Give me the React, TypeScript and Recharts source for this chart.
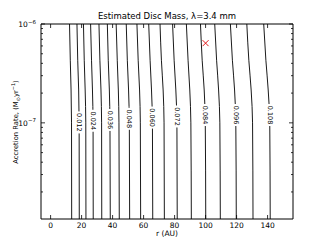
import React from "react";
import {
  ComposedChart,
  Line,
  Scatter,
  XAxis,
  YAxis,
  ReferenceArea,
  ReferenceDot,
} from "recharts";

const W = 325;
const H = 245;
// XAxis height and YAxis width are 1px each, so the plot box is 41..293 x 24..219
const MARGIN = { top: 24, right: 32, bottom: 25, left: 40 };
const PLOT_W = 252;
const PLOT_H = 195;
const FONT = "DejaVu Sans, sans-serif";

const R_DOMAIN: [number, number] = [-6.2, 156.4];
const RATE_DOMAIN: [number, number] = [1.065e-8, 1e-6];
const R_TICKS = [0, 20, 40, 60, 80, 100, 120, 140];
const RATE_TICKS = [
  2e-8, 3e-8, 4e-8, 5e-8, 6e-8, 7e-8, 8e-8, 9e-8,
  1e-7, 2e-7, 3e-7, 4e-7, 5e-7, 6e-7, 7e-7, 8e-7, 9e-7, 1e-6,
];

// disc mass of each contour (M_sun)
const LEVELS = [
  0.006, 0.012, 0.018, 0.024, 0.03, 0.036, 0.042, 0.048, 0.054,
  0.06, 0.066, 0.072, 0.078, 0.084, 0.09, 0.096, 0.102, 0.108,
];

// accretion rates at which the contour radii were read
const RATE_ROWS = [1e-6, 4.3e-7, 2.15e-7, 1e-7, 1.065e-8];
const R_AT_1E6 = [12.2, 17.0, 21.2, 25.8, 31.2, 36.6, 42.3, 48.8, 55.7, 63.3, 70.6, 78.7, 87.6, 96.7, 105.9, 116.0, 126.6, 137.5];
const R_AT_4E7 = [12.7, 17.5, 21.7, 26.4, 31.8, 37.2, 43.0, 49.5, 56.5, 64.2, 71.5, 79.7, 88.7, 97.8, 107.1, 117.3, 127.9, 138.9];
const R_AT_2E7 = [13.2, 18.1, 22.3, 27.0, 32.5, 37.9, 43.7, 50.3, 57.4, 65.1, 72.6, 80.8, 89.8, 99.1, 108.4, 118.7, 129.4, 140.4];
const R_AT_1E7 = [13.5, 18.4, 22.7, 27.4, 32.9, 38.3, 44.1, 50.8, 57.9, 65.7, 73.2, 81.5, 90.5, 99.8, 109.2, 119.5, 130.3, 141.4];
const R_AT_BOTTOM = [13.6, 18.5, 22.8, 27.5, 33.0, 38.5, 44.3, 51.0, 58.1, 65.9, 73.4, 81.7, 90.8, 100.1, 109.5, 119.8, 130.6, 141.7];
const R_ROWS = [R_AT_1E6, R_AT_4E7, R_AT_2E7, R_AT_1E7, R_AT_BOTTOM];

// inline contour labels
const LABEL_TEXT = ["0.012", "0.024", "0.036", "0.048", "0.060", "0.072", "0.084", "0.096", "0.108"];
const LABEL_R = [18.4, 27.4, 38.3, 50.8, 65.7, 81.5, 99.8, 119.5, 141.4];
const LABEL_RATE = [1.01e-7, 1.05e-7, 1.07e-7, 1.1e-7, 1.13e-7, 1.16e-7, 1.2e-7, 1.2e-7, 1.2e-7];

// observed source
const OBS_R = [100];
const OBS_RATE = [6.4e-7];

const contours = LEVELS.map((level, i) => ({
  level,
  points: RATE_ROWS.map((rate, j) => ({ r: R_ROWS[j][i], rate })),
}));
const observed = OBS_R.map((r, i) => ({ r, rate: OBS_RATE[i] }));

const SUPERSCRIPT: Record<string, string> = { "-6": "−6", "-7": "−7" };

function XTick(props: any) {
  const { x, y, payload } = props;
  return (
    <g>
      <line x1={x} x2={x} y1={y} y2={y - 4} stroke="#000" strokeWidth={0.8} />
      <line x1={x} x2={x} y1={y - PLOT_H} y2={y - PLOT_H + 4} stroke="#000" strokeWidth={0.8} />
      <text x={x} y={y + 9} textAnchor="middle" fontSize={7.5} fontFamily={FONT} fill="#000">
        {payload.value}
      </text>
    </g>
  );
}

function YTick(props: any) {
  const { x, y, payload } = props;
  const exp = Math.log10(payload.value);
  const major = Math.abs(exp - Math.round(exp)) < 1e-6;
  const len = major ? 4 : 2;
  return (
    <g>
      <line x1={x} x2={x + len} y1={y} y2={y} stroke="#000" strokeWidth={0.8} />
      <line x1={x + PLOT_W} x2={x + PLOT_W - len} y1={y} y2={y} stroke="#000" strokeWidth={0.8} />
      {major && (
        <text x={x - 5} y={y + 3} textAnchor="end" fontSize={7.5} fontFamily={FONT} fill="#000">
          10
          <tspan dy={-3.5} fontSize={5.5}>
            {SUPERSCRIPT[String(Math.round(exp))]}
          </tspan>
        </text>
      )}
    </g>
  );
}

function XMark(props: any) {
  const { cx, cy } = props;
  const s = 3;
  return (
    <g stroke="#e00000" strokeWidth={0.9}>
      <line x1={cx - s} y1={cy - s} x2={cx + s} y2={cy + s} />
      <line x1={cx - s} y1={cy + s} x2={cx + s} y2={cy - s} />
    </g>
  );
}

function contourLabel(text: string) {
  return (p: any) => (
    <g>
      <rect x={p.cx - 3} y={p.cy - 11} width={6} height={22} fill="#fff" />
      <text
        x={p.cx}
        y={p.cy}
        transform={`rotate(90 ${p.cx} ${p.cy})`}
        textAnchor="middle"
        dominantBaseline="central"
        fontSize={6.5}
        fontFamily={FONT}
        fill="#000"
      >
        {text}
      </text>
    </g>
  );
}

export default function App() {
  return (
    <div style={{ position: "absolute", left: 0, top: 0, width: W, height: H, background: "#fff", fontFamily: FONT }}>
      <div
        style={{
          position: "absolute",
          left: 41,
          width: PLOT_W,
          top: 11,
          textAlign: "center",
          fontSize: 8.5,
          lineHeight: "10px",
        }}
      >
        Estimated Disc Mass, λ=3.4 mm
      </div>
      <div
        style={{
          position: "absolute",
          left: 16,
          top: 122,
          transform: "translate(-50%, -50%) rotate(-90deg)",
          whiteSpace: "nowrap",
          fontSize: 6.8,
          lineHeight: "9px",
        }}
      >
        Accretion Rate, (M<sub style={{ fontSize: 5 }}>⊙</sub>yr<sup style={{ fontSize: 5 }}>−1</sup>)
      </div>
      <div
        style={{
          position: "absolute",
          left: 41,
          width: PLOT_W,
          top: 229,
          textAlign: "center",
          fontSize: 7.5,
          lineHeight: "9px",
        }}
      >
        r (AU)
      </div>
      <ComposedChart width={W} height={H} margin={MARGIN} style={{ position: "absolute", left: 0, top: 0 }}>
        <XAxis
          type="number"
          dataKey="r"
          domain={R_DOMAIN}
          allowDataOverflow
          ticks={R_TICKS}
          interval={0}
          height={1}
          tickSize={0}
          tickMargin={0}
          tickLine={false}
          axisLine={false}
          tick={<XTick />}
        />
        <YAxis
          type="number"
          dataKey="rate"
          scale="log"
          domain={RATE_DOMAIN}
          allowDataOverflow
          ticks={RATE_TICKS}
          interval={0}
          width={1}
          tickSize={0}
          tickMargin={0}
          tickLine={false}
          axisLine={false}
          tick={<YTick />}
        />
        {contours.map((c) => (
          <Line
            key={c.level}
            data={c.points}
            dataKey="rate"
            type="monotoneY"
            stroke="#000"
            strokeWidth={0.9}
            dot={false}
            activeDot={false}
            isAnimationActive={false}
          />
        ))}
        {LABEL_TEXT.map((t, i) => (
          <ReferenceDot key={t} x={LABEL_R[i]} y={LABEL_RATE[i]} r={0} shape={contourLabel(t)} ifOverflow="visible" />
        ))}
        <Scatter data={observed} dataKey="rate" shape={<XMark />} isAnimationActive={false} />
        <ReferenceArea
          x1={R_DOMAIN[0]}
          x2={R_DOMAIN[1]}
          y1={RATE_DOMAIN[0]}
          y2={RATE_DOMAIN[1]}
          fill="none"
          fillOpacity={0}
          stroke="#000"
          strokeWidth={1}
          ifOverflow="visible"
        />
      </ComposedChart>
    </div>
  );
}
